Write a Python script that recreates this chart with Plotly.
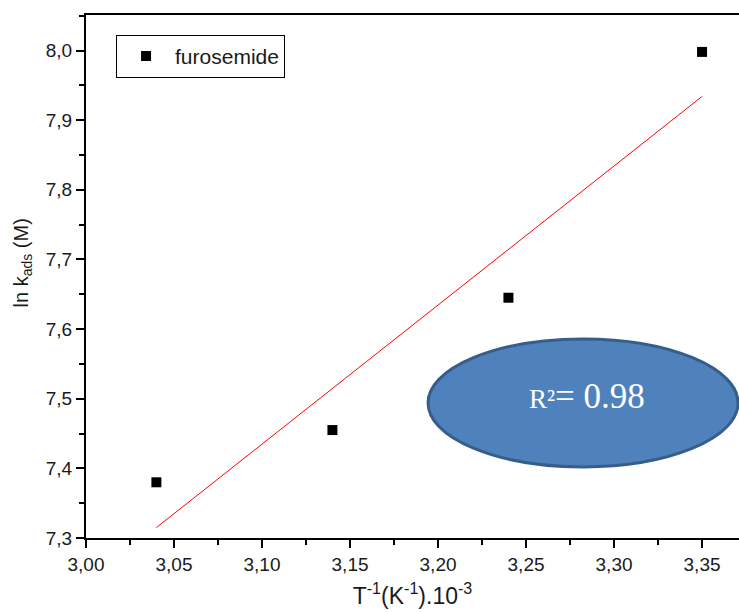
import numpy as np
import plotly.graph_objects as go

# Data
inv_T = [3.04, 3.14, 3.24, 3.35]
ln_kads = [7.380, 7.455, 7.645, 7.998]
series_name = "furosemide"
r2_label = "0.98"

slope, intercept = np.polyfit(inv_T, ln_kads, 1)
fit_x = [inv_T[0], inv_T[-1]]
fit_y = [slope * x + intercept for x in fit_x]

fig = go.Figure()
fig.add_trace(go.Scatter(x=fit_x, y=fit_y, mode="lines",
                         line=dict(color="#ff0000", width=1), showlegend=False,
                         hoverinfo="skip"))
fig.add_trace(go.Scatter(x=inv_T, y=ln_kads, mode="markers", name=series_name,
                         marker=dict(symbol="square", size=10, color="black")))

# Ellipse annotation (centre in data coords, size in pixels)
fig.add_shape(type="circle", xref="x", yref="y",
              xsizemode="pixel", ysizemode="pixel",
              xanchor=3.2824, yanchor=7.494,
              x0=-155, x1=155, y0=-64, y1=64,
              fillcolor="#4F81BD", line=dict(color="#385D8A", width=3), layer="above")
fig.add_annotation(x=3.2845, y=7.503, xref="x", yref="y", showarrow=False,
                   text="<span style='font-size:27px'>R²</span>= " + r2_label,
                   font=dict(family="Liberation Serif", size=35, color="white"))

# y-axis title
fig.add_annotation(x=-0.098, y=0.525, xref="paper", yref="paper", showarrow=False,
                   textangle=-90, xanchor="center", yanchor="middle",
                   text="ln k<sub>ads</sub> (M)",
                   font=dict(family="Liberation Sans", size=20, color="#1a1a1a"))

fig.update_layout(
    width=739, height=612,
    margin=dict(l=86, r=0, t=15, b=74),
    paper_bgcolor="white", plot_bgcolor="white",
    separators=", ",
    font=dict(family="Liberation Sans", size=19, color="#1a1a1a"),
    showlegend=True,
    legend=dict(x=0.046, y=0.962, xanchor="left", yanchor="top",
                bordercolor="black", borderwidth=1, bgcolor="white",
                font=dict(size=21), itemwidth=48,
                tracegroupgap=0),
    xaxis=dict(range=[3.0, 3.371], tick0=3.0, dtick=0.05, tickformat=".2f",
               showgrid=False, zeroline=False, showline=True, linecolor="black",
               linewidth=2, mirror=True, ticks="outside", ticklen=8, tickwidth=1.5,
               tickcolor="black",
               minor=dict(ticks="outside", ticklen=5, tickwidth=1.5, dtick=0.025,
                          tick0=3.0, tickcolor="black", showgrid=False),
               title=dict(text="T<sup>-1</sup>(K<sup>-1</sup>).10<sup>-3</sup>",
                          font=dict(size=23), standoff=14)),
    yaxis=dict(range=[7.3, 8.051], tick0=7.3, dtick=0.1, tickformat=".1f",
               showgrid=False, zeroline=False, showline=True, linecolor="black",
               linewidth=2, mirror=False, ticks="outside", ticklen=8, tickwidth=1.5,
               tickcolor="black",
               minor=dict(ticks="outside", ticklen=5, tickwidth=1.5, dtick=0.05,
                          tick0=7.3, tickcolor="black", showgrid=False)),
)

fig.write_html("out.html")
